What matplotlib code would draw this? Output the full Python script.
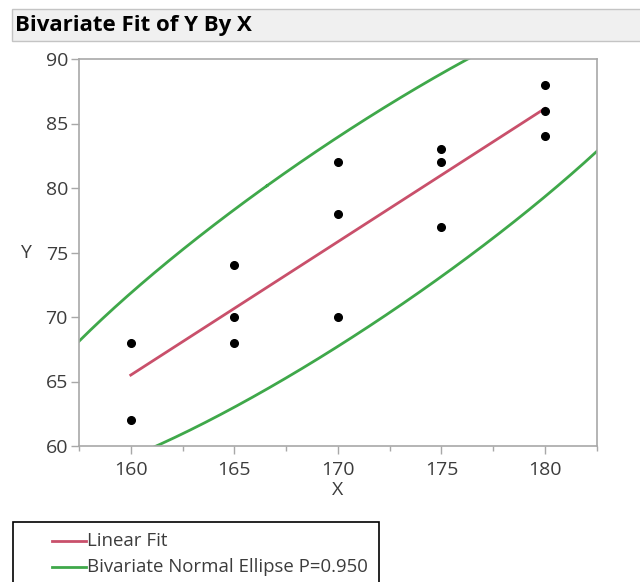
import numpy as np
import matplotlib
matplotlib.use("Agg")
import matplotlib.pyplot as plt
from matplotlib.patches import Rectangle
from matplotlib.lines import Line2D
from matplotlib.ticker import MultipleLocator

plt.rcParams['font.family'] = ['Open Sans', 'DejaVu Sans']

# data
x = np.array([160, 160, 165, 165, 165, 170, 170, 170, 175, 175, 175, 180, 180, 180])
y = np.array([68, 62, 74, 70, 68, 82, 78, 70, 83, 82, 77, 88, 86, 84])
x_ticks = [160, 165, 170, 175, 180]
y_ticks = [60, 65, 70, 75, 80, 85, 90]
prob = 0.95

red = '#c9506b'
green = '#3fa84a'
frame = '#a8a8a8'
txt = '#3c3c3c'

fig = plt.figure(figsize=(6.4, 5.82), dpi=100)
ax = fig.add_axes([79 / 640, 1 - 446 / 582, (596.7 - 79) / 640, (446 - 59) / 582])

# linear fit
b, a = np.polyfit(x, y, 1)
xf = np.array([x.min(), x.max()])
ax.plot(xf, a + b * xf, color=red, lw=2, zorder=2)

# bivariate normal density ellipse
cov = np.cov(x, y)
c = -2 * np.log(1 - prob)
vals, vecs = np.linalg.eigh(cov)
t = np.linspace(0, 2 * np.pi, 400)
circ = np.vstack([np.cos(t), np.sin(t)]) * np.sqrt(c * vals)[:, None]
ell = vecs @ circ
ax.plot(x.mean() + ell[0], y.mean() + ell[1], color=green, lw=2, zorder=2)

ax.plot(x, y, 'o', color='black', ms=5.5, zorder=3)

ax.set_xlim(157.5, 182.5)
ax.set_ylim(60, 90)
ax.set_xticks(x_ticks)
ax.set_yticks(y_ticks)
ax.xaxis.set_minor_locator(MultipleLocator(2.5))
for s in ax.spines.values():
    s.set_color(frame)
    s.set_linewidth(1.2)
ax.tick_params(which='major', length=6, width=1, color=frame, labelsize=14,
               labelcolor=txt, pad=2)
ax.tick_params(axis='x', which='major', pad=5)
ax.tick_params(which='minor', length=3.5, width=1, color=frame)
ax.set_xlabel('X', fontsize=14, color=txt, labelpad=1)
ax.set_ylabel('Y', fontsize=14, color=txt, rotation=0, labelpad=14, va='center')

# title bar
fig.patches.append(Rectangle((11.7 / 640, 1 - 41 / 582), 1, 31.7 / 582,
                             transform=fig.transFigure, facecolor='#f0f0f0',
                             edgecolor='#c4c4c4', lw=1))
fig.text(15 / 640, 1 - 26 / 582, 'Bivariate Fit of Y By X', fontsize=16,
         fontweight='bold', color='black', va='center', ha='left')

# legend box
fig.patches.append(Rectangle((13.3 / 640, -0.05), (379 - 13.3) / 640, 0.05 + 60.3 / 582,
                             transform=fig.transFigure, facecolor='white',
                             edgecolor='black', lw=1.2))
for yy, col, lab in [(540.7, red, 'Linear Fit'),
                     (566.7, green, 'Bivariate Normal Ellipse P=0.950')]:
    fy = 1 - yy / 582
    fig.lines.append(Line2D([51.7 / 640, 86 / 640], [fy, fy], transform=fig.transFigure,
                            color=col, lw=2))
    fig.text(87 / 640, fy, lab, fontsize=13.4, color=txt, va='center', ha='left')

fig.savefig('out.png', dpi=100)
